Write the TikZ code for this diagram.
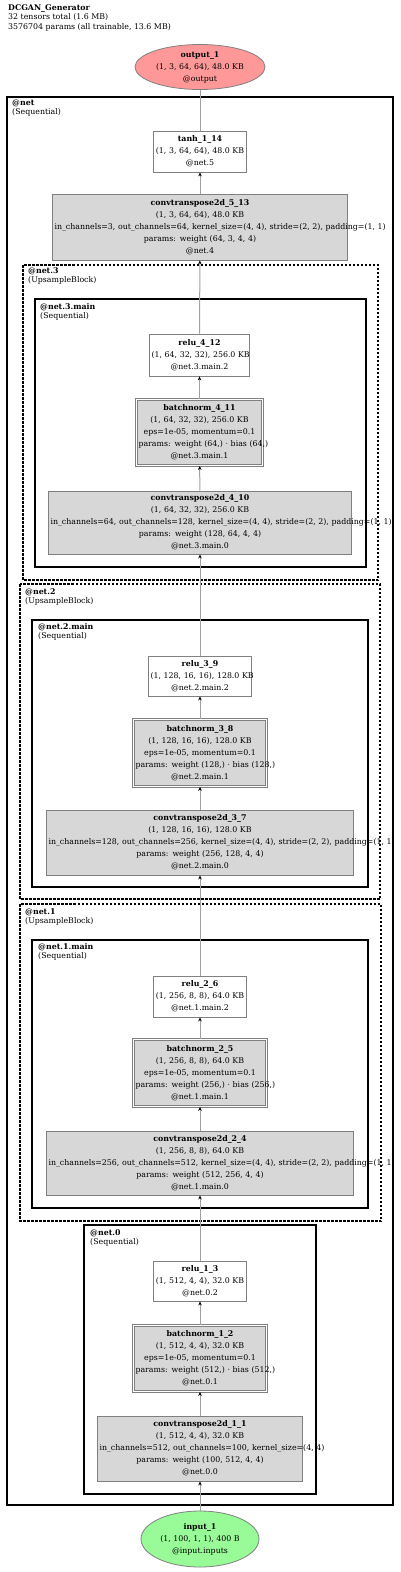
\documentclass[tikz,border=0pt]{standalone}
\usepackage{fontspec}
\setmainfont{DejaVu Serif}
\usetikzlibrary{shapes.geometric,arrows.meta}

\definecolor{outred}{RGB}{255,153,153}
\definecolor{ingreen}{RGB}{152,251,152}
\definecolor{opgray}{RGB}{215,215,215}
\definecolor{edgegray}{RGB}{160,160,160}
\newcommand{\gvfont}{\fontsize{7.85}{12}\selectfont}
\newcommand{\grpfont}{\fontsize{7.85}{9}\selectfont}

\tikzset{
  layer/.style={rectangle, draw=gray, fill=white, line width=0.8pt, inner xsep=2pt, inner ysep=0pt, align=center, font=\gvfont},
  oplayer/.style={layer, fill=opgray},
  bnlayer/.style={layer, fill=opgray, double=white, double distance=1.6pt},
  ioblob/.style={ellipse, draw=gray, line width=0.8pt, inner sep=0pt},
  group/.style={draw=black, line width=2.8pt},
  block/.style={draw=black, line width=2.8pt, dash pattern=on 2.5pt off 1.5pt},
  grouplabel/.style={anchor=north west, inner sep=0pt, align=left, font=\grpfont},
  flow/.style={draw=edgegray, line width=1pt, -{Stealth[color=black, length=4pt, width=3.5pt]}},
}

\begin{document}
\begin{tikzpicture}[x=1pt, y=-1pt]
\useasboundingbox (0,0) rectangle (400,1572);

% title
\node[grouplabel, font=\fontsize{7.85}{9.5}\selectfont] (title) at (8,4) {\textbf{DCGAN\_Generator}\\32 tensors total (1.6 MB)\\3576704 params (all trainable, 13.6 MB)};

% clusters
\draw[group] (7,97) rectangle (393,1505);
\node[grouplabel] (netlbl) at (12,99.5) {\textbf{@net}\\(Sequential)};
\draw[block] (23,265) rectangle (378,580);
\node[grouplabel] (net3lbl) at (28,267.5) {\textbf{@net.3}\\(UpsampleBlock)};
\draw[group, line width=2.5pt] (35,299) rectangle (366,567);
\node[grouplabel] (net3mainlbl) at (40,303) {\textbf{@net.3.main}\\(Sequential)};
\draw[block] (20,584) rectangle (380,899);
\node[grouplabel] (net2lbl) at (25,588) {\textbf{@net.2}\\(UpsampleBlock)};
\draw[group, line width=2.5pt] (32,620) rectangle (368,887);
\node[grouplabel] (net2mainlbl) at (38,623) {\textbf{@net.2.main}\\(Sequential)};
\draw[block] (20,904) rectangle (381,1221);
\node[grouplabel] (net1lbl) at (25,908) {\textbf{@net.1}\\(UpsampleBlock)};
\draw[group, line width=2.5pt] (32,940) rectangle (368,1208);
\node[grouplabel] (net1mainlbl) at (38,943) {\textbf{@net.1.main}\\(Sequential)};
\draw[group, line width=2.5pt] (84,1225) rectangle (316,1494);
\node[grouplabel] (net0lbl) at (90,1229) {\textbf{@net.0}\\(Sequential)};

% layers
\node[ioblob, fill=outred, minimum width=130pt, minimum height=45pt,
  label={[align=center, font=\gvfont]center:\textbf{output\_1}\\(1, 3, 64, 64), 48.0 KB\\@output}] (out) at (200,67) {};
\node[layer, text width=89pt, minimum height=41pt] (tanh) at (200,151.5) {\textbf{tanh\_1\_14}\\\mbox{(1, 3, 64, 64), 48.0 KB}\\@net.5};
\node[oplayer, text width=291pt, minimum height=66pt] (conv5) at (200,227) {\textbf{convtranspose2d\_5\_13}\\(1, 3, 64, 64), 48.0 KB\\\mbox{in\_channels=3, out\_channels=64, kernel\_size=(4, 4), stride=(2, 2), padding=(1, 1)}\\params: weight (64, 3, 4, 4)\\@net.4};

\node[layer, text width=96pt, minimum height=42pt] (relu4) at (199.5,355) {\textbf{relu\_4\_12}\\\mbox{(1, 64, 32, 32), 256.0 KB}\\@net.3.main.2};
\node[bnlayer, text width=122pt, minimum height=66pt] (bn4) at (199.5,432.5) {\textbf{batchnorm\_4\_11}\\(1, 64, 32, 32), 256.0 KB\\\mbox{eps=1e-05, momentum=0.1}\\\mbox{params: weight (64,) · bias (64,)}\\@net.3.main.1};
\node[oplayer, text width=299pt, minimum height=63pt] (conv4) at (200,522.5) {\textbf{convtranspose2d\_4\_10}\\(1, 64, 32, 32), 256.0 KB\\\mbox{in\_channels=64, out\_channels=128, kernel\_size=(4, 4), stride=(2, 2), padding=(1, 1)}\\params: weight (128, 64, 4, 4)\\@net.3.main.0};

\node[layer, text width=99pt, minimum height=40pt] (relu3) at (200,676) {\textbf{relu\_3\_9}\\\mbox{(1, 128, 16, 16), 128.0 KB}\\@net.2.main.2};
\node[bnlayer, text width=129pt, minimum height=67pt] (bn3) at (200,753) {\textbf{batchnorm\_3\_8}\\(1, 128, 16, 16), 128.0 KB\\\mbox{eps=1e-05, momentum=0.1}\\\mbox{params: weight (128,) · bias (128,)}\\@net.2.main.1};
\node[oplayer, text width=303pt, minimum height=65pt] (conv3) at (200,842.5) {\textbf{convtranspose2d\_3\_7}\\(1, 128, 16, 16), 128.0 KB\\\mbox{in\_channels=128, out\_channels=256, kernel\_size=(4, 4), stride=(2, 2), padding=(1, 1)}\\params: weight (256, 128, 4, 4)\\@net.2.main.0};

\node[layer, text width=89pt, minimum height=41pt] (relu2) at (200,996.5) {\textbf{relu\_2\_6}\\\mbox{(1, 256, 8, 8), 64.0 KB}\\@net.1.main.2};
\node[bnlayer, text width=129pt, minimum height=67pt] (bn2) at (200,1073) {\textbf{batchnorm\_2\_5}\\(1, 256, 8, 8), 64.0 KB\\\mbox{eps=1e-05, momentum=0.1}\\\mbox{params: weight (256,) · bias (256,)}\\@net.1.main.1};
\node[oplayer, text width=303pt, minimum height=64pt] (conv2) at (200,1163) {\textbf{convtranspose2d\_2\_4}\\(1, 256, 8, 8), 64.0 KB\\\mbox{in\_channels=256, out\_channels=512, kernel\_size=(4, 4), stride=(2, 2), padding=(1, 1)}\\params: weight (512, 256, 4, 4)\\@net.1.main.0};

\node[layer, text width=89pt, minimum height=40pt] (relu1) at (200,1281) {\textbf{relu\_1\_3}\\\mbox{(1, 512, 4, 4), 32.0 KB}\\@net.0.2};
\node[bnlayer, text width=129pt, minimum height=66pt] (bn1) at (200,1358.5) {\textbf{batchnorm\_1\_2}\\(1, 512, 4, 4), 32.0 KB\\\mbox{eps=1e-05, momentum=0.1}\\\mbox{params: weight (512,) · bias (512,)}\\@net.0.1};
\node[oplayer, text width=201pt, minimum height=65pt] (conv1) at (200,1448.5) {\textbf{convtranspose2d\_1\_1}\\(1, 512, 4, 4), 32.0 KB\\\mbox{in\_channels=512, out\_channels=100, kernel\_size=(4, 4)}\\params: weight (100, 512, 4, 4)\\@net.0.0};
\node[ioblob, fill=ingreen, minimum width=118pt, minimum height=56pt,
  label={[align=center, font=\gvfont]center:\textbf{input\_1}\\(1, 100, 1, 1), 400 B\\@input.inputs}] (in) at (200,1539) {};

% edges
\draw[flow] (in) -- (conv1);
\draw[flow] (conv1) -- (bn1);
\draw[flow] (bn1) -- (relu1);
\draw[flow] (relu1) -- (conv2);
\draw[flow] (conv2) -- (bn2);
\draw[flow] (bn2) -- (relu2);
\draw[flow] (relu2) -- (conv3);
\draw[flow] (conv3) -- (bn3);
\draw[flow] (bn3) -- (relu3);
\draw[flow] (relu3) -- (conv4);
\draw[flow] (conv4) -- (bn4);
\draw[flow] (bn4) -- (relu4);
\draw[flow] (relu4) -- (conv5);
\draw[flow] (conv5) -- (tanh);
\draw[draw=edgegray, line width=1pt] (tanh) -- (out);
\end{tikzpicture}
\end{document}
